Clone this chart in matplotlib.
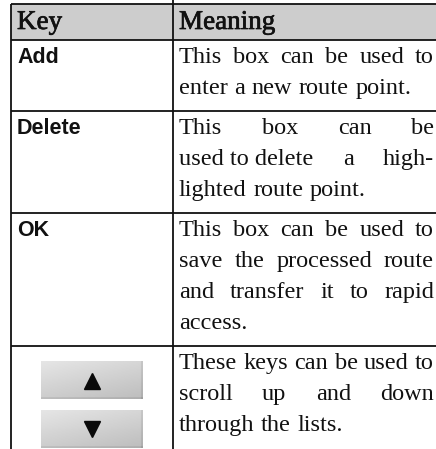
import numpy as np
import matplotlib
matplotlib.use("Agg")
import matplotlib.pyplot as plt
from matplotlib import patheffects as pe

# ---- table content ----
header_key = "Key"
header_meaning = "Meaning"
keys = ["Add", "Delete", "OK", ""]
meaning_lines = [
    [["This", "box", "can", "be", "used", "to"], ["enter", "a", "new", "route", "point."]],
    [["This", "box", "can", "be"], ["used to delete", "a", "high-"], ["lighted", "route", "point."]],
    [["This", "box", "can", "be", "used", "to"], ["save", "the", "processed", "route"],
     ["and", "transfer", "it", "to", "rapid"], ["access."]],
    [["These", "keys", "can", "be", "used", "to"], ["scroll", "up", "and", "down"],
     ["through", "the", "lists."]],
]
button_symbols = ["^", "v"]

W, H = 436, 449
fig = plt.figure(figsize=(W / 100, H / 100), dpi=100)
ax = fig.add_axes([0, 0, 1, 1])
ax.set_xlim(0, W)
ax.set_ylim(H, 0)
ax.axis("off")
fig.canvas.draw()
renderer = fig.canvas.get_renderer()

serif = "Liberation Serif"
sans = "Liberation Sans"
body_size = 17.5
key_size = 15.5
header_size = 19.5
line_pitch = 31
pad = 9
left_x = 11
div_x = 173
right_x = W
text_x0 = 179
text_x1 = 434
key_x = 17
top_y = 4
header_h = 36
lw = 1.3
col = "#111111"

# header background
ax.add_patch(plt.Rectangle((left_x, top_y), right_x - left_x, header_h,
                           facecolor="#cdcdcd", edgecolor="none", zorder=0))
hdr_fx = [pe.withStroke(linewidth=0.5, foreground=col)]
ax.text(key_x, top_y + 25, header_key, family=serif, fontsize=header_size, color=col,
        va="baseline", ha="left", path_effects=hdr_fx)
ax.text(text_x0, top_y + 25, header_meaning, family=serif, fontsize=header_size, color=col,
        va="baseline", ha="left", path_effects=hdr_fx)


def draw_line(words, y, justify):
    ts = [ax.text(0, y, w, family=serif, fontsize=body_size, color=col,
                  va="baseline", ha="left") for w in words]
    widths = [t.get_window_extent(renderer).width for t in ts]
    if justify and len(words) > 1:
        gap = (text_x1 - text_x0 - sum(widths)) / (len(words) - 1)
    else:
        gap = 0.27 * body_size * 100 / 72
    x = text_x0
    for t, w in zip(ts, widths):
        t.set_x(x)
        x += w + gap


row_top = top_y + header_h
row_bounds = [top_y, row_top]
button_row = None
for i, (k, lines) in enumerate(zip(keys, meaning_lines)):
    n = len(lines)
    h = n * line_pitch + pad
    y0 = row_top + 23
    if k:
        ax.text(key_x, y0, k, family=sans, fontsize=key_size, fontweight="bold",
                color=col, va="baseline", ha="left")
    else:
        button_row = row_top
    for j, words in enumerate(lines):
        draw_line(words, y0 + j * line_pitch, j < n - 1)
    row_top += h
    row_bounds.append(row_top)

# buttons in the last row
gy, gx = np.mgrid[0:1:40j, 0:1:100j]
grad = 0.90 - 0.10 * gy - 0.06 * gx
grad[:, -2:] -= 0.06
grad[-2:, :] -= 0.06
bx0, bx1 = 41, 142
for b, sym in enumerate(button_symbols):
    by0 = button_row + 15 + b * 49
    by1 = by0 + 38
    ax.imshow(grad, cmap="gray", vmin=0, vmax=1, extent=(bx0, bx1, by1, by0),
              aspect="auto", zorder=1, interpolation="bilinear")
    ax.plot([(bx0 + bx1) / 2], [(by0 + by1) / 2 + (1 if sym == "^" else 0)], marker=sym,
            markersize=11, color="#0a0a0a", zorder=2, linestyle="none")

ax.set_xlim(0, W)
ax.set_ylim(H, 0)

# grid lines
for yb in row_bounds[:-1]:
    ax.plot([left_x, right_x], [yb, yb], color=col, lw=lw, solid_capstyle="butt", zorder=3)
ax.plot([left_x, left_x], [top_y, H], color=col, lw=lw, solid_capstyle="butt", zorder=3)
ax.plot([div_x, div_x], [0, H], color=col, lw=lw, solid_capstyle="butt", zorder=3)

fig.savefig("out.png", dpi=100, facecolor="white")
